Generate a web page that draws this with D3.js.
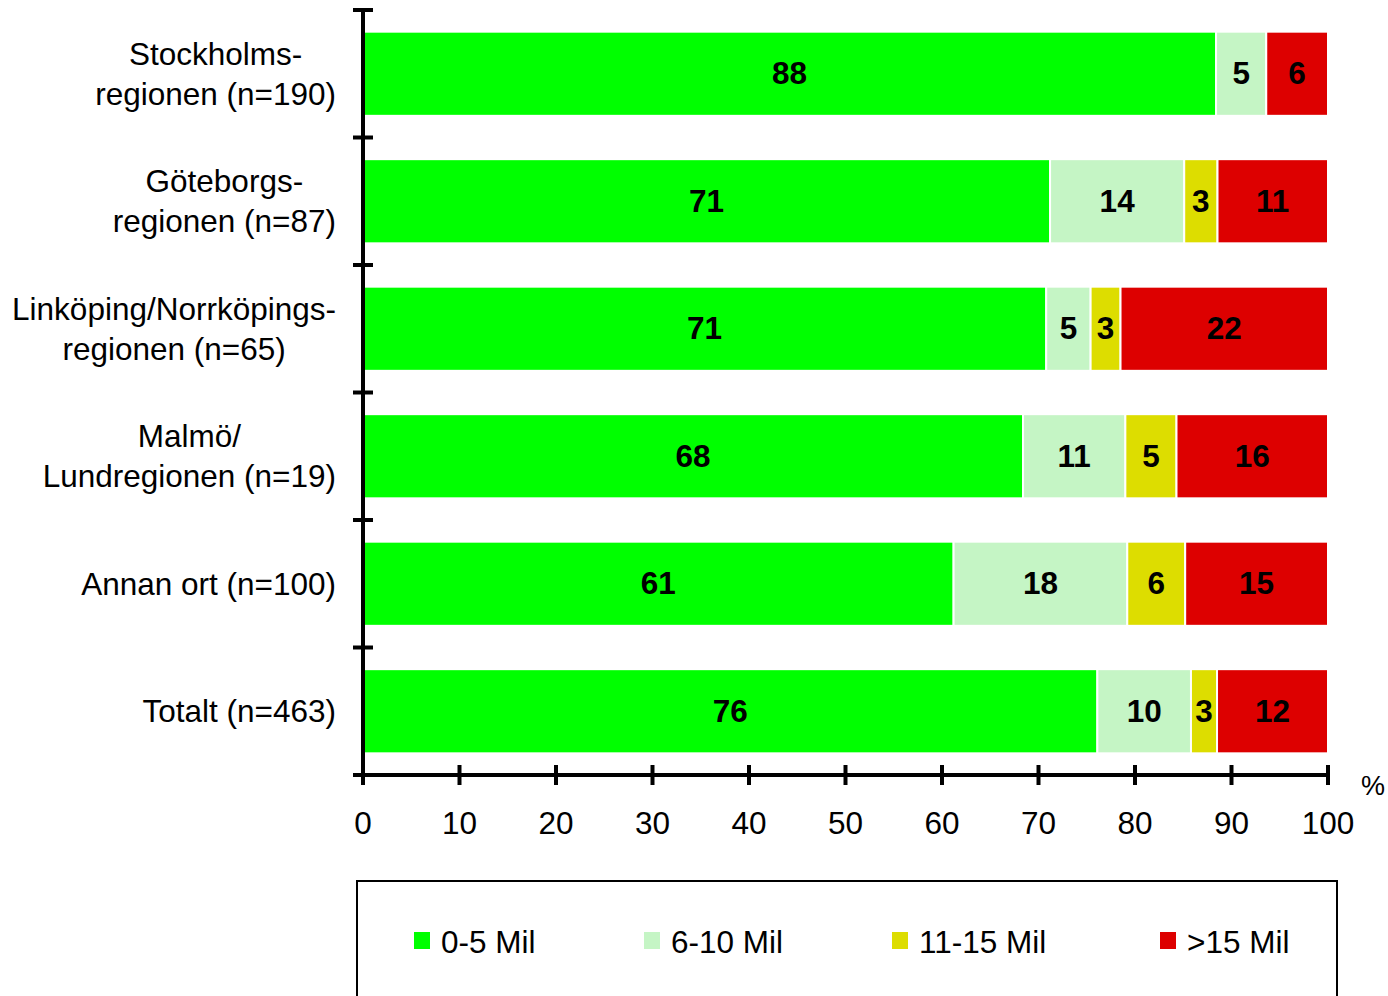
<!DOCTYPE html>
<html><head><meta charset="utf-8">
<script src="https://cdn.jsdelivr.net/npm/d3@7"></script>
<style>body{margin:0;background:#fff}svg{display:block;font-family:"Liberation Sans",Arial,sans-serif}</style>
</head><body><svg id="c" width="1388" height="996"></svg>
<script>
const categories = [
  ["Stockholms-","regionen (n=190)"],
  ["Göteborgs-","regionen (n=87)"],
  ["Linköping/Norrköpings-","regionen (n=65)"],
  ["Malmö/","Lundregionen (n=19)"],
  ["Annan ort (n=100)"],
  ["Totalt (n=463)"]
];
const seriesNames = ["0-5 Mil","6-10 Mil","11-15 Mil",">15 Mil"];
const s0_5 =   [88.4, 71.2, 70.8, 68.4, 61.2, 76.1];
const s6_10 =  [5.2, 13.9, 4.6, 10.6, 18.0, 9.7];
const s11_15 = [0, 3.45, 3.1, 5.3, 6.0, 2.7];
const s15 =    [6.4, 11.45, 21.5, 15.7, 14.8, 11.5];
const colors = ["#00FF00","#C5F5C5","#DDDD00","#DD0000"];
const xTicks = [0,10,20,30,40,50,60,70,80,90,100];

const FS = 31.5;
const svg = d3.select("#c");
const keys = categories.map((c,i)=>"c"+i);
const x = d3.scaleLinear().domain([0,100]).range([363,1328]);
const y = d3.scaleBand().domain(keys).range([10,775]).paddingInner(0.34).paddingOuter(0.17);

const rows = keys.map((k,i)=>({key:k, "0-5 Mil":s0_5[i], "6-10 Mil":s6_10[i], "11-15 Mil":s11_15[i], ">15 Mil":s15[i]}));
const stack = d3.stack().keys(seriesNames)(rows);

const g = svg.append("g");
stack.forEach((layer,li)=>{
  layer.forEach((d,i)=>{
    const v = d[1]-d[0];
    if (v<=0) return;
    g.append("rect")
      .attr("x", x(d[0])).attr("y", y(keys[i]))
      .attr("width", x(d[1])-x(d[0])).attr("height", y.bandwidth())
      .attr("fill", colors[li]).attr("stroke","#fff").attr("stroke-width",2);
    g.append("text")
      .attr("x", (x(d[0])+x(d[1]))/2).attr("y", y(keys[i])+y.bandwidth()/2+10.5)
      .attr("text-anchor","middle").attr("font-size",FS).attr("font-weight","bold")
      .attr("fill","#000").text(Math.round(v));
  });
});

// Y axis
const yEdges = keys.map(k=>y(k)-y.step()*y.paddingInner()/2);
yEdges.push(775);
svg.append("line").attr("x1",363).attr("x2",363).attr("y1",8).attr("y2",785).attr("stroke","#000").attr("stroke-width",4);
yEdges.forEach(e=>{
  svg.append("line").attr("x1",353).attr("x2",373).attr("y1",e).attr("y2",e).attr("stroke","#000").attr("stroke-width",4);
});
// X axis
const xa = svg.append("g").attr("transform","translate(0,775)")
  .call(d3.axisBottom(x).tickValues(xTicks).tickSize(0).tickPadding(0));
xa.select(".domain").remove();
xa.selectAll(".tick text").remove();
svg.append("line").attr("x1",353).attr("x2",1330).attr("y1",775).attr("y2",775).attr("stroke","#000").attr("stroke-width",4);
xTicks.forEach(t=>{
  svg.append("line").attr("x1",x(t)).attr("x2",x(t)).attr("y1",765).attr("y2",785).attr("stroke","#000").attr("stroke-width",4);
  svg.append("text").attr("x",x(t)).attr("y",834).attr("text-anchor","middle").attr("font-size",FS).attr("fill","#000").text(t);
});
svg.append("text").attr("x",1373).attr("y",795).attr("text-anchor","middle").attr("font-size",27).attr("fill","#000").text("%");

// Category labels
categories.forEach((lines,i)=>{
  const cy = y(keys[i])+y.bandwidth()/2;
  const tg = svg.append("g");
  const n = lines.length;
  const ts = lines.map((ln,j)=>tg.append("text").attr("font-size",FS).attr("fill","#000")
      .attr("text-anchor","middle")
      .attr("y", cy + 11 + (j-(n-1)/2)*40).text(ln));
  const maxW = d3.max(ts, t=>t.node().getComputedTextLength());
  ts.forEach(t=>t.attr("x", 336 - maxW/2));
});

// Legend
svg.append("rect").attr("x",357).attr("y",881).attr("width",980).attr("height",130)
  .attr("fill","none").attr("stroke","#000").attr("stroke-width",2);
const lx = [414,644,892,1160];
seriesNames.forEach((s,i)=>{
  svg.append("rect").attr("x",lx[i]).attr("y",932).attr("width",16).attr("height",17).attr("fill",colors[i]);
  svg.append("text").attr("x",lx[i]+27).attr("y",953).attr("font-size",FS).attr("fill","#000").text(s);
});
</script></body></html>
